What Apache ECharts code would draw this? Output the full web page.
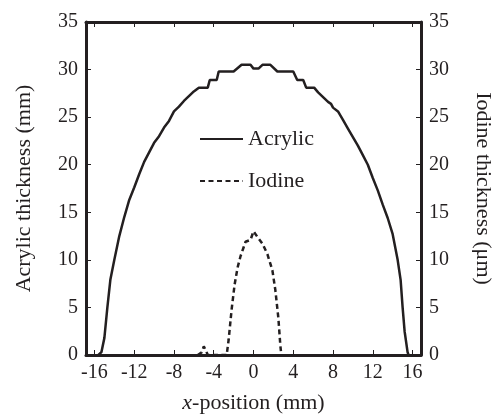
<!DOCTYPE html>
<html>
<head>
<meta charset="utf-8">
<script src="https://cdn.jsdelivr.net/npm/echarts@6/dist/echarts.min.js"></script>
<style>html,body{margin:0;padding:0;background:#fff}#c{width:497px;height:415px}</style>
</head>
<body>
<div id="c"></div>
<script>
// ---- data ----
const xTicks = [-16, -12, -8, -4, 0, 4, 8, 12, 16];
const yTicks = [0, 5, 10, 15, 20, 25, 30, 35];

const acrylicX = [-15.6,-15.3,-15.0,-14.7,-14.4,-14.0,-13.5,-13.0,-12.5,-12.0,-11.5,-11.0,-10.5,-10.0,-9.5,-9.0,-8.5,-8.0,-7.5,-7.0,-6.5,-6.0,-5.5,-4.6,-4.4,-3.7,-3.5,-2.0,-1.2,-0.3,0.0,0.5,0.9,1.7,2.4,4.0,4.4,5.0,5.3,6.1,6.5,7.0,7.5,7.8,8.0,8.5,9.0,9.5,10.0,10.5,11.0,11.5,12.0,12.5,13.0,13.5,14.0,14.5,14.8,15.0,15.2,15.5,15.6];
const acrylicY = [0,0.3,1.8,5.0,7.9,10.0,12.5,14.5,16.3,17.6,19.0,20.3,21.3,22.3,23.0,23.9,24.6,25.6,26.1,26.7,27.2,27.7,28.1,28.1,28.9,28.9,29.8,29.8,30.5,30.5,30.1,30.1,30.5,30.5,29.8,29.8,28.9,28.9,28.1,28.1,27.6,27.1,26.6,26.4,26.0,25.6,24.7,23.8,22.9,22.0,21.0,20.0,18.6,17.3,15.8,14.4,12.7,10.0,7.9,5.0,2.5,0.3,0];

const iodineX = [-5.6,-5.2,-5.0,-4.8,-4.6,-2.7,-2.5,-2.2,-1.9,-1.6,-1.3,-1.0,-0.8,-0.3,0.0,0.4,0.9,1.4,1.9,2.2,2.5,2.7,2.8];
const iodineY = [0,0.3,0.9,0.5,0,0,1.6,4.8,7.4,9.2,10.4,11.3,11.9,12.1,13.0,12.4,11.7,10.6,8.9,6.8,3.9,1.0,0];

const zip = (xs, ys) => xs.map((x, i) => [x, ys[i]]);

const ink = '#231f20';
const font = 'Liberation Serif';
const tickFs = 20, nameFs = 22;

const chart = echarts.init(document.getElementById('c'), null, {renderer: 'canvas'});

const xBase = {
  type: 'value', min: -16.85, max: 16.85,
  axisLine: {show: true, onZero: false, lineStyle: {color: ink, width: 3}},
  axisTick: {show: true, inside: true, length: 5, customValues: xTicks, lineStyle: {color: ink, width: 1}},
  splitLine: {show: false}
};
const yBase = {
  type: 'value', min: 0, max: 35, interval: 5,
  axisLine: {show: true, onZero: false, lineStyle: {color: ink, width: 3}},
  axisTick: {show: true, inside: true, length: 5, lineStyle: {color: ink, width: 1}},
  splitLine: {show: false}
};

chart.setOption({
  animation: false,
  backgroundColor: '#fff',
  grid: {left: 86, right: 76, top: 22, bottom: 60, containLabel: false, outerBoundsMode: 'none'},
  legend: {
    orient: 'vertical', left: 194, top: 123, itemWidth: 43, itemHeight: 14, itemGap: 20,
    itemStyle: {opacity: 0, borderWidth: 0},
    textStyle: {fontFamily: font, fontSize: nameFs, color: ink},
    data: ['Acrylic', 'Iodine']
  },
  xAxis: [
    Object.assign({}, xBase, {
      position: 'bottom',
      name: '{it|x}-position (mm)', nameLocation: 'middle', nameGap: 37,
      nameTextStyle: {fontFamily: font, fontSize: nameFs, color: ink,
        rich: {it: {fontFamily: font, fontSize: nameFs, color: ink, fontStyle: 'italic'}}},
      axisLabel: {show: true, customValues: xTicks, margin: 8,
        fontFamily: font, fontSize: tickFs, color: ink,
        formatter: v => String(v)}
    }),
    Object.assign({}, xBase, {position: 'top', axisLabel: {show: false}})
  ],
  yAxis: [
    Object.assign({}, yBase, {
      position: 'left',
      name: 'Acrylic thickness (mm)', nameLocation: 'middle', nameGap: 51,
      nameTextStyle: {fontFamily: font, fontSize: nameFs, color: ink},
      axisLabel: {margin: 8, fontFamily: font, fontSize: tickFs, color: ink}
    }),
    Object.assign({}, yBase, {
      position: 'right',
      name: 'Iodine thickness (\u03bcm)', nameLocation: 'middle', nameGap: 51, nameRotate: -90,
      nameTextStyle: {fontFamily: font, fontSize: nameFs, color: ink},
      axisLabel: {margin: 8, fontFamily: font, fontSize: tickFs, color: ink}
    })
  ],
  series: [
    {
      name: 'Acrylic', type: 'line', xAxisIndex: 0, yAxisIndex: 0,
      data: zip(acrylicX, acrylicY), symbol: 'none', showSymbol: false, smooth: false,
      lineStyle: {color: ink, width: 2.5}, itemStyle: {color: ink}
    },
    {
      name: 'Iodine', type: 'line', xAxisIndex: 0, yAxisIndex: 1,
      data: zip(iodineX, iodineY), symbol: 'none', showSymbol: false, smooth: false,
      lineStyle: {color: ink, width: 2.5, type: [5, 3.5]}, itemStyle: {color: ink}
    }
  ]
});
</script>
</body>
</html>
